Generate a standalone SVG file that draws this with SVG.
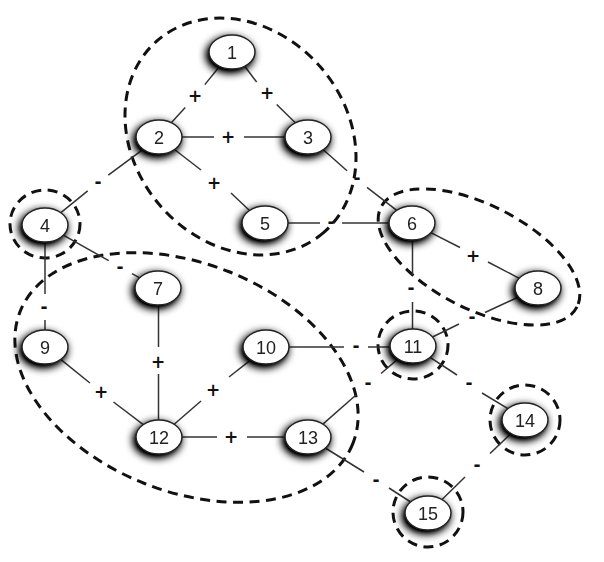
<svg xmlns="http://www.w3.org/2000/svg" width="604" height="562" viewBox="0 0 604 562">
<style>
.grp{fill:none;stroke:#111;stroke-width:3;stroke-dasharray:10 6.5}
.e line{stroke:#333;stroke-width:1.5}
.node ellipse{fill:#fff;stroke:#222;stroke-width:1.5}
.node text{font-family:"Liberation Sans",Arial,sans-serif;font-size:18px;fill:#222;text-anchor:middle}
.s{font-family:"DejaVu Sans","Liberation Sans",sans-serif;font-size:17px;font-weight:bold;fill:#111;text-anchor:middle}
</style>
<defs>
<filter id="sh" x="-60%" y="-60%" width="220%" height="220%">
<feGaussianBlur in="SourceAlpha" stdDeviation="4.5"/>
<feOffset dx="-2" dy="3"/>
<feComponentTransfer><feFuncA type="linear" slope="1.4"/></feComponentTransfer>
<feMerge><feMergeNode/><feMergeNode in="SourceGraphic"/></feMerge>
</filter>
</defs>
<rect width="604" height="562" fill="#fff"/>
<g id="groups">
<ellipse class="grp" cx="240.5" cy="136.5" rx="127" ry="106" transform="rotate(49 240.5 136.5)"/>
<ellipse class="grp" cx="186.5" cy="377.5" rx="179" ry="114" transform="rotate(21.6 186.5 377.5)"/>
<ellipse class="grp" cx="479" cy="257" rx="110" ry="52" transform="rotate(27 479 257)"/>
<ellipse class="grp" cx="45" cy="224" rx="35" ry="34"/>
<ellipse class="grp" cx="413" cy="345" rx="35" ry="34"/>
<ellipse class="grp" cx="525" cy="420" rx="35" ry="35"/>
<ellipse class="grp" cx="428" cy="512" rx="35" ry="35"/>
</g>
<g id="connectors" class="e">
<line x1="171.3" y1="122.7" x2="185.2" y2="107.4"/><line x1="204.8" y1="84.6" x2="219.7" y2="66.3"/>
<line x1="244.7" y1="66.2" x2="256.7" y2="82.1"/><line x1="276.7" y1="104.5" x2="295.3" y2="122.8"/>
<line x1="182" y1="137" x2="214" y2="137"/><line x1="244" y1="137" x2="285" y2="137"/>
<line x1="174.5" y1="149.5" x2="201" y2="170"/><line x1="231" y1="193" x2="249.5" y2="210.5"/>
<line x1="143.1" y1="149.3" x2="108.3" y2="175.1"/><line x1="87.7" y1="190.9" x2="60.9" y2="212.7"/>
<line x1="323.3" y1="149.7" x2="347" y2="170.7"/><line x1="367" y1="187.3" x2="396.7" y2="210.3"/>
<line x1="288" y1="223" x2="320" y2="223"/><line x1="342" y1="223" x2="389" y2="223"/>
<line x1="63.3" y1="235.2" x2="108.7" y2="260.7"/><line x1="132" y1="273.7" x2="139.7" y2="277.8"/>
<line x1="45" y1="242" x2="45" y2="294"/><line x1="45" y1="320" x2="45" y2="330"/>
<line x1="158.5" y1="305" x2="158.5" y2="347"/><line x1="158.5" y1="374" x2="158.5" y2="420"/>
<line x1="60.7" y1="359.4" x2="89.9" y2="383"/><line x1="113.5" y1="402" x2="143.3" y2="424.6"/>
<line x1="174.2" y1="424.2" x2="201" y2="401"/><line x1="229" y1="377" x2="250.8" y2="359.8"/>
<line x1="182" y1="437" x2="217" y2="437"/><line x1="247" y1="437" x2="285" y2="437"/>
<line x1="289" y1="347" x2="344" y2="347"/><line x1="368" y1="347" x2="390" y2="347"/>
<line x1="412.5" y1="240" x2="412.5" y2="275"/><line x1="412.5" y1="302" x2="412.5" y2="329"/>
<line x1="430.8" y1="232.7" x2="460" y2="247.5"/><line x1="488" y1="262" x2="519.2" y2="278.3"/>
<line x1="518.5" y1="297" x2="485" y2="312.5"/><line x1="459" y1="324" x2="432.5" y2="337"/>
<line x1="398.1" y1="358.9" x2="381" y2="373.5"/><line x1="356" y1="395" x2="322.9" y2="424.1"/>
<line x1="430.1" y1="357.3" x2="457" y2="375"/><line x1="482" y1="393" x2="507.9" y2="408.7"/>
<line x1="325.3" y1="448" x2="364" y2="472"/><line x1="389" y1="488" x2="410.7" y2="502"/>
<line x1="511" y1="433.5" x2="490" y2="453.5"/><line x1="465" y1="477" x2="442" y2="499.5"/>
<text class="s" x="195" y="102">+</text>
<text class="s" x="267" y="99">+</text>
<text class="s" x="228" y="143">+</text>
<text class="s" x="214" y="189">+</text>
<text class="s" x="98" y="188">-</text>
<text class="s" x="357" y="184">-</text>
<text class="s" x="331" y="228">-</text>
<text class="s" x="120" y="273">-</text>
<text class="s" x="44" y="313">-</text>
<text class="s" x="158" y="368">+</text>
<text class="s" x="101" y="398">+</text>
<text class="s" x="213" y="396">+</text>
<text class="s" x="231" y="443">+</text>
<text class="s" x="356" y="352">-</text>
<text class="s" x="411" y="294">-</text>
<text class="s" x="473" y="262">+</text>
<text class="s" x="472" y="323">-</text>
<text class="s" x="368" y="389">-</text>
<text class="s" x="469" y="389">-</text>
<text class="s" x="376" y="486">-</text>
<text class="s" x="477" y="471">-</text>
</g>
<g id="n1" class="node" filter="url(#sh)"><ellipse cx="232" cy="52" rx="23" ry="17"/><text x="232" y="58.5">1</text></g>
<g id="n2" class="node" filter="url(#sh)"><ellipse cx="159" cy="137" rx="23" ry="17"/><text x="159" y="143.5">2</text></g>
<g id="n3" class="node" filter="url(#sh)"><ellipse cx="308" cy="137" rx="23" ry="17"/><text x="308" y="143.5">3</text></g>
<g id="n4" class="node" filter="url(#sh)"><ellipse cx="45" cy="225" rx="23" ry="17"/><text x="45" y="231.5">4</text></g>
<g id="n5" class="node" filter="url(#sh)"><ellipse cx="265" cy="223" rx="23" ry="17"/><text x="265" y="229.5">5</text></g>
<g id="n6" class="node" filter="url(#sh)"><ellipse cx="412" cy="223" rx="23" ry="17"/><text x="412" y="229.5">6</text></g>
<g id="n7" class="node" filter="url(#sh)"><ellipse cx="158" cy="288" rx="23" ry="17"/><text x="158" y="294.5">7</text></g>
<g id="n8" class="node" filter="url(#sh)"><ellipse cx="538" cy="288" rx="23" ry="17"/><text x="538" y="294.5">8</text></g>
<g id="n9" class="node" filter="url(#sh)"><ellipse cx="45" cy="347" rx="23" ry="17"/><text x="45" y="353.5">9</text></g>
<g id="n10" class="node" filter="url(#sh)"><ellipse cx="266" cy="347" rx="23" ry="17"/><text x="266" y="353.5">10</text></g>
<g id="n11" class="node" filter="url(#sh)"><ellipse cx="413" cy="346" rx="23" ry="17"/><text x="413" y="352.5">11</text></g>
<g id="n12" class="node" filter="url(#sh)"><ellipse cx="159" cy="437" rx="23" ry="17"/><text x="159" y="443.5">12</text></g>
<g id="n13" class="node" filter="url(#sh)"><ellipse cx="308" cy="437" rx="23" ry="17"/><text x="308" y="443.5">13</text></g>
<g id="n14" class="node" filter="url(#sh)"><ellipse cx="525" cy="420" rx="23" ry="17"/><text x="525" y="426.5">14</text></g>
<g id="n15" class="node" filter="url(#sh)"><ellipse cx="428" cy="513" rx="23" ry="17"/><text x="428" y="519.5">15</text></g>
</svg>
